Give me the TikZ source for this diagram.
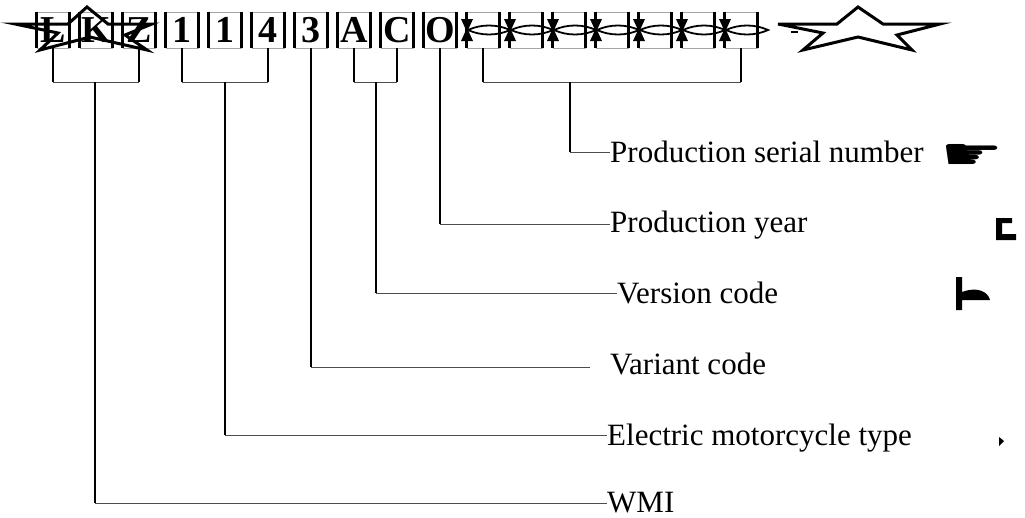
\documentclass[tikz,border=0pt]{standalone}
\usepackage{fontspec}
\setmainfont{Liberation Serif}
\newfontfamily\dejavu{DejaVu Sans}
\begin{document}
\begin{tikzpicture}[x=1pt,y=-1pt,
  vinbox/.style={draw=gray!70,line width=0.8pt,minimum width=32pt,minimum height=36pt,inner sep=0pt,
    font=\bfseries\fontsize{38}{38}\selectfont},
  side/.style={line width=2.6pt,black},
  stem/.style={line width=2.4pt,black},
  lead/.style={line width=1pt,black!70},
  lbl/.style={anchor=base west,inner sep=0pt,font=\fontsize{31}{31}\selectfont},
  starline/.style={line width=3pt,black,line join=miter},
  blob/.style={fill=black}]
\useasboundingbox (0,0) rectangle (1025,517);
% VIN boxes
\foreach \i/\c in {1/L,2/K,3/Z,4/1,5/1,6/4,7/3,8/A,9/C,10/O,11/,12/,13/,14/,15/,16/,17/}{
  \node[vinbox] (b\i) at ({53+43*(\i-1)},30) {\c};
  \draw[side] (b\i.north west) -- (b\i.south west);
  \draw[side] (b\i.north east) -- (b\i.south east);
}
% serial placeholders: hourglass marks and lenses
\foreach \i in {11,...,17}{
  \pgfmathsetmacro{\xl}{37+43*(\i-1)}
  \fill (\xl-6,19) -- (\xl+6,19) -- (\xl+1,30) -- (\xl+6,41) -- (\xl-6,41) -- (\xl-1,30) -- cycle;
  \draw[line width=1.8pt] (\xl+1,30) .. controls (\xl+14,24) and (\xl+30,24) .. (\xl+43,30)
                                     .. controls (\xl+30,36) and (\xl+14,36) .. (\xl+1,30);
}
% stars
\draw[starline] (87,7) -- (108,24) -- (152,24) -- (125,35) -- (147,50) -- (90,37) -- (40,50) -- (58,33) -- (15,24) -- (68,24) -- cycle;
\draw[starline] (858,7) -- (883,24) -- (940,24) -- (897,35) -- (912,50) -- (858,37) -- (803,50) -- (823,33) -- (778,24) -- (837,24) -- cycle;
\draw[line width=2pt] (791,32) -- (798,32);
% bracket level
\coordinate (brk) at (0,82);
% WMI
\draw[stem] (b1.south) -- (b1.south |- brk);
\draw[stem] (b3.south) -- (b3.south |- brk);
\draw[lead] (b1.south |- brk) -- (b3.south |- brk);
\coordinate (wmiT) at (95,82);
\coordinate (wmiB) at (95,503);
\node[lbl] (wmi) at (607,512) {WMI};
\draw[stem] (wmiT) -- (wmiB);
\draw[lead] (wmiB) -- (wmiB -| wmi.west);
% Electric motorcycle type
\draw[stem] (b4.south) -- (b4.south |- brk);
\draw[stem] (b6.south) -- (b6.south |- brk);
\draw[lead] (b4.south |- brk) -- (b6.south |- brk);
\coordinate (typT) at (225,82);
\coordinate (typB) at (225,435);
\node[lbl] (typ) at (607,445) {Electric motorcycle type};
\draw[stem] (typT) -- (typB);
\draw[lead] (typB) -- (typB -| typ.west);
% Variant code
\coordinate (varB) at (311,367);
\coordinate (varE) at (590,367);
\node[lbl] (var) at (610,374) {Variant code};
\draw[stem] (b7.south) -- (varB);
\draw[lead] (varB) -- (varE);
% Version code
\draw[stem] (b8.south) -- (b8.south |- brk);
\draw[stem] (b9.south) -- (b9.south |- brk);
\draw[lead] (b8.south |- brk) -- (b9.south |- brk);
\coordinate (verT) at (376,82);
\coordinate (verB) at (376,293);
\node[lbl] (ver) at (617,303) {Version code};
\draw[stem] (verT) -- (verB);
\draw[lead] (verB) -- (verB -| ver.west);
% Production year
\coordinate (yrB) at (440,224);
\node[lbl] (yr) at (610,232) {Production year};
\draw[stem] (b10.south) -- (yrB);
\draw[lead] (yrB) -- (yrB -| yr.west);
% Production serial number
\draw[stem] (b11.south) -- (b11.south |- brk);
\draw[stem] (b17.south) -- (b17.south |- brk);
\draw[lead] (b11.south |- brk) -- (b17.south |- brk);
\coordinate (serT) at (570,82);
\coordinate (serB) at (570,152);
\node[lbl] (ser) at (610,162) {Production serial number};
\draw[stem] (serT) -- (serB);
\draw[lead] (serB) -- (serB -| ser.west);
% stray marks at right
\node[font=\dejavu\fontsize{44}{44}\selectfont,inner sep=0pt,xscale=1.6] (hand) at (972,157) {☛};
\fill[blob] (996,218) -- (1012,218) -- (1012,223) -- (1002,223) -- (1002,234) -- (1016,234) -- (1016,240) -- (996,240) -- cycle;
\fill[blob] (956,277) -- (962,277) -- (962,292) .. controls (978,286) and (988,292) .. (990,300) -- (962,300) -- (962,310) -- (956,310) -- cycle;
\fill[blob] (999,437) -- (1004,441) -- (999,446) -- cycle;
\end{tikzpicture}
\end{document}
